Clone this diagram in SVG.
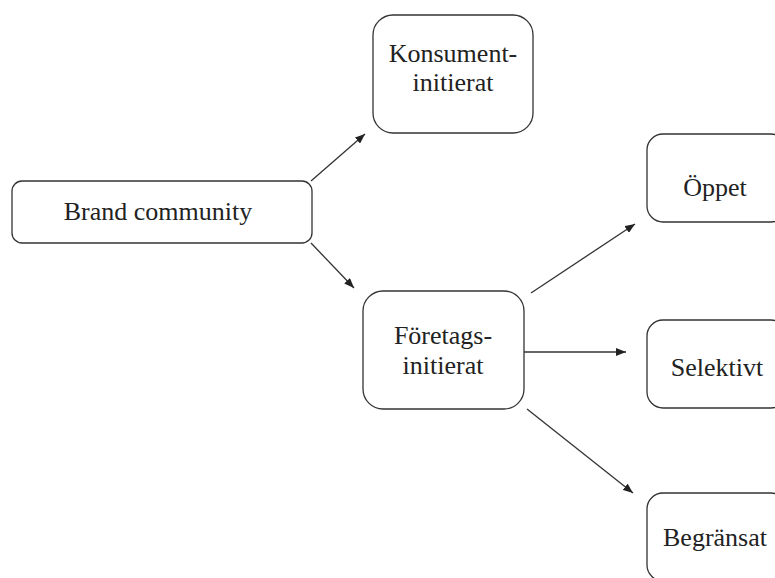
<svg xmlns="http://www.w3.org/2000/svg" width="775" height="578" viewBox="0 0 775 578">
<style>
.box{fill:#fff;stroke:#333;stroke-width:1.3}
.t{font-family:"Liberation Serif","Times New Roman",serif;font-size:26px;fill:#222;text-anchor:middle}
.c{stroke:#333;stroke-width:1.3;fill:none;marker-end:url(#ah)}
</style>
<defs>
<marker id="ah" viewBox="0 0 10 8" refX="10" refY="4" markerWidth="10" markerHeight="8" markerUnits="userSpaceOnUse" orient="auto">
<path d="M0,0 L10,4 L0,8 Z" fill="#222"/>
</marker>
</defs>
<rect width="775" height="578" fill="#fff"/>
<g id="brand">
<rect class="box" x="12" y="181" width="300" height="62" rx="10"/>
<text class="t" x="158" y="220">Brand community</text>
</g>
<g id="konsument">
<rect class="box" x="373" y="15" width="160" height="118" rx="20"/>
<text class="t" x="453" y="62">Konsument-</text>
<text class="t" x="453" y="91">initierat</text>
</g>
<g id="foretags">
<rect class="box" x="363" y="291" width="161" height="118" rx="20"/>
<text class="t" x="443" y="344">Företags-</text>
<text class="t" x="443" y="374">initierat</text>
</g>
<g id="oppet">
<rect class="box" x="647" y="134" width="140" height="88" rx="16"/>
<text class="t" x="715" y="196">Öppet</text>
</g>
<g id="selektivt">
<rect class="box" x="647" y="320" width="140" height="88" rx="16"/>
<text class="t" x="717" y="376">Selektivt</text>
</g>
<g id="begransat">
<rect class="box" x="647" y="493" width="140" height="88" rx="16"/>
<text class="t" x="715" y="546">Begränsat</text>
</g>
<g id="connectors">
<line class="c" x1="311" y1="181" x2="365" y2="134"/>
<line class="c" x1="311" y1="243" x2="354" y2="288"/>
<line class="c" x1="531" y1="293" x2="635" y2="224"/>
<line class="c" x1="524" y1="352" x2="626" y2="352"/>
<line class="c" x1="527" y1="409" x2="633" y2="493"/>
</g>
</svg>
